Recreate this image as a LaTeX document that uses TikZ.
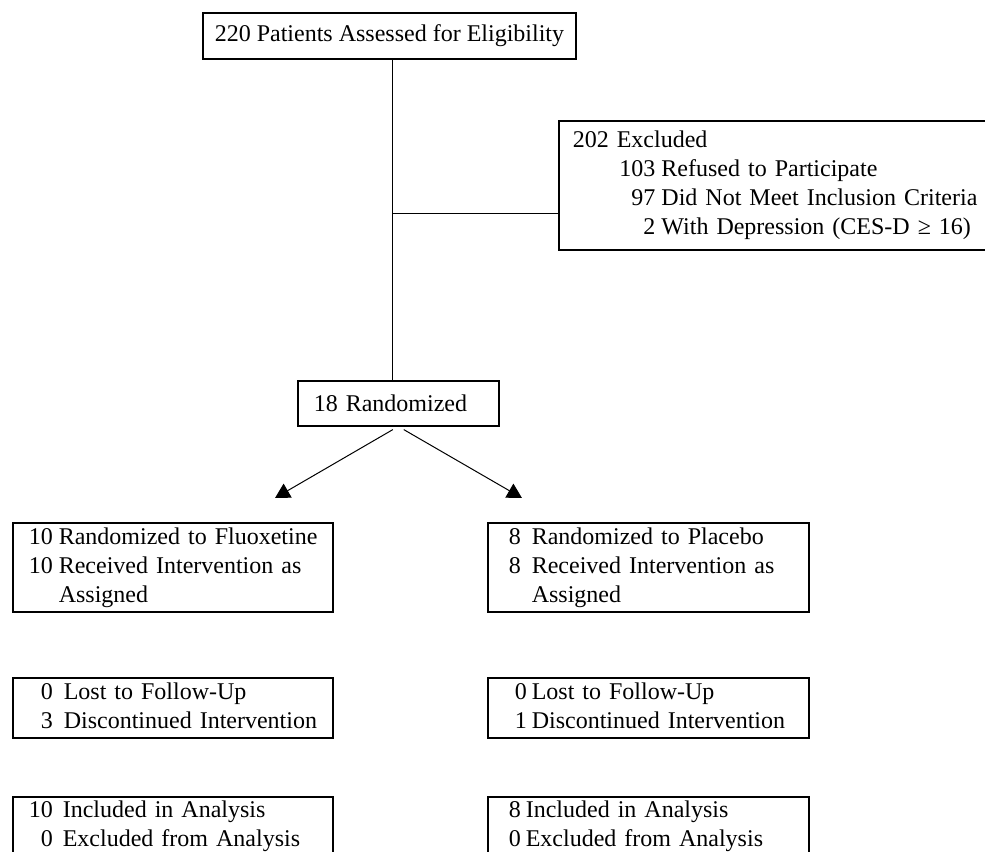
\documentclass[tikz,border=0pt]{standalone}
\usepackage{fontspec}
\setmainfont{Liberation Serif}
\usetikzlibrary{arrows.meta}

\begin{document}
\begin{tikzpicture}[x=0.75pt, y=-0.75pt,
  every node/.style={font=\fontsize{18}{21.75}\selectfont},
  box/.style={draw, line width=1.2pt, anchor=north west, align=left, inner xsep=12pt, inner ysep=0pt},
  link/.style={line width=0.75pt},
  arr/.style={line width=0.75pt, -{Triangle[length=11pt, width=12pt]}}]
  \useasboundingbox (0,0) rectangle (985,852);
  \clip (0,0) rectangle (985,852);

  % Enrollment
  \node[box, inner xsep=9pt, minimum height=34.5pt] (elig) at (202,12) {220 Patients Assessed for Eligibility};
  \node[box, inner xsep=10.5pt, minimum width=324pt, minimum height=96.75pt, text width=303pt] (excl) at (558,120)
    {\begin{tabular}{@{}r@{\hspace{4.5pt}}l@{}}
      \multicolumn{2}{@{}l@{}}{202 Excluded}\\
      \hspace{35pt}103 & Refused to Participate\\
      97 & Did Not Meet Inclusion Criteria\\
      2 & With Depression (CES-D ≥ 16)
    \end{tabular}};
  \node[box, minimum height=33.75pt, text width=126.75pt] (rand) at (297,380) {18 Randomized};

  % Allocation
  \node[box, minimum height=66.75pt, text width=216pt] (fluo) at (12,522)
    {\begin{tabular}{@{}r@{\hspace{4.5pt}}l@{}}
      10 & Randomized to Fluoxetine\\
      10 & Received Intervention as\\
         & Assigned
    \end{tabular}};
  \node[box, minimum height=66.75pt, text width=216.75pt] (plac) at (487,522)
    {\begin{tabular}{@{\hspace{3.75pt}}r@{\hspace{8.25pt}}l@{}}
      8 & Randomized to Placebo\\
      8 & Received Intervention as\\
        & Assigned
    \end{tabular}};

  % Follow-up
  \node[box, minimum height=45pt, text width=216pt] (lostF) at (12,677)
    {\begin{tabular}{@{\hspace{9pt}}r@{\hspace{8.25pt}}l@{}}
      0 & Lost to Follow-Up\\
      3 & Discontinued Intervention
    \end{tabular}};
  \node[box, minimum height=45pt, text width=216.75pt] (lostP) at (487,677)
    {\begin{tabular}{@{\hspace{8.25pt}}r@{\hspace{3.75pt}}l@{}}
      0 & Lost to Follow-Up\\
      1 & Discontinued Intervention
    \end{tabular}};

  % Analysis
  \node[box, minimum height=43.5pt, text width=216pt] (anaF) at (12,796)
    {\begin{tabular}{@{}r@{\hspace{7.5pt}}l@{}}
      10 & Included in Analysis\\
       0 & Excluded from Analysis
    \end{tabular}};
  \node[box, minimum height=43.5pt, text width=216.75pt] (anaP) at (487,796)
    {\begin{tabular}{@{\hspace{3.75pt}}r@{\hspace{3.75pt}}l@{}}
      8 & Included in Analysis\\
      0 & Excluded from Analysis
    \end{tabular}};

  % Connectors
  \coordinate (tee) at (392,214);
  \coordinate (fluoTip) at (275,498);
  \coordinate (placTip) at (522,498);
  \draw[link] (elig.south -| tee) -- (rand.north -| tee);
  \draw[link] (tee) -- (tee -| excl.west);
  \draw[arr] ([xshift=-4.1pt, yshift=-2.25pt]rand.south) -- (fluoTip);
  \draw[arr] ([xshift=4.1pt, yshift=-2.25pt]rand.south) -- (placTip);
\end{tikzpicture}
\end{document}
